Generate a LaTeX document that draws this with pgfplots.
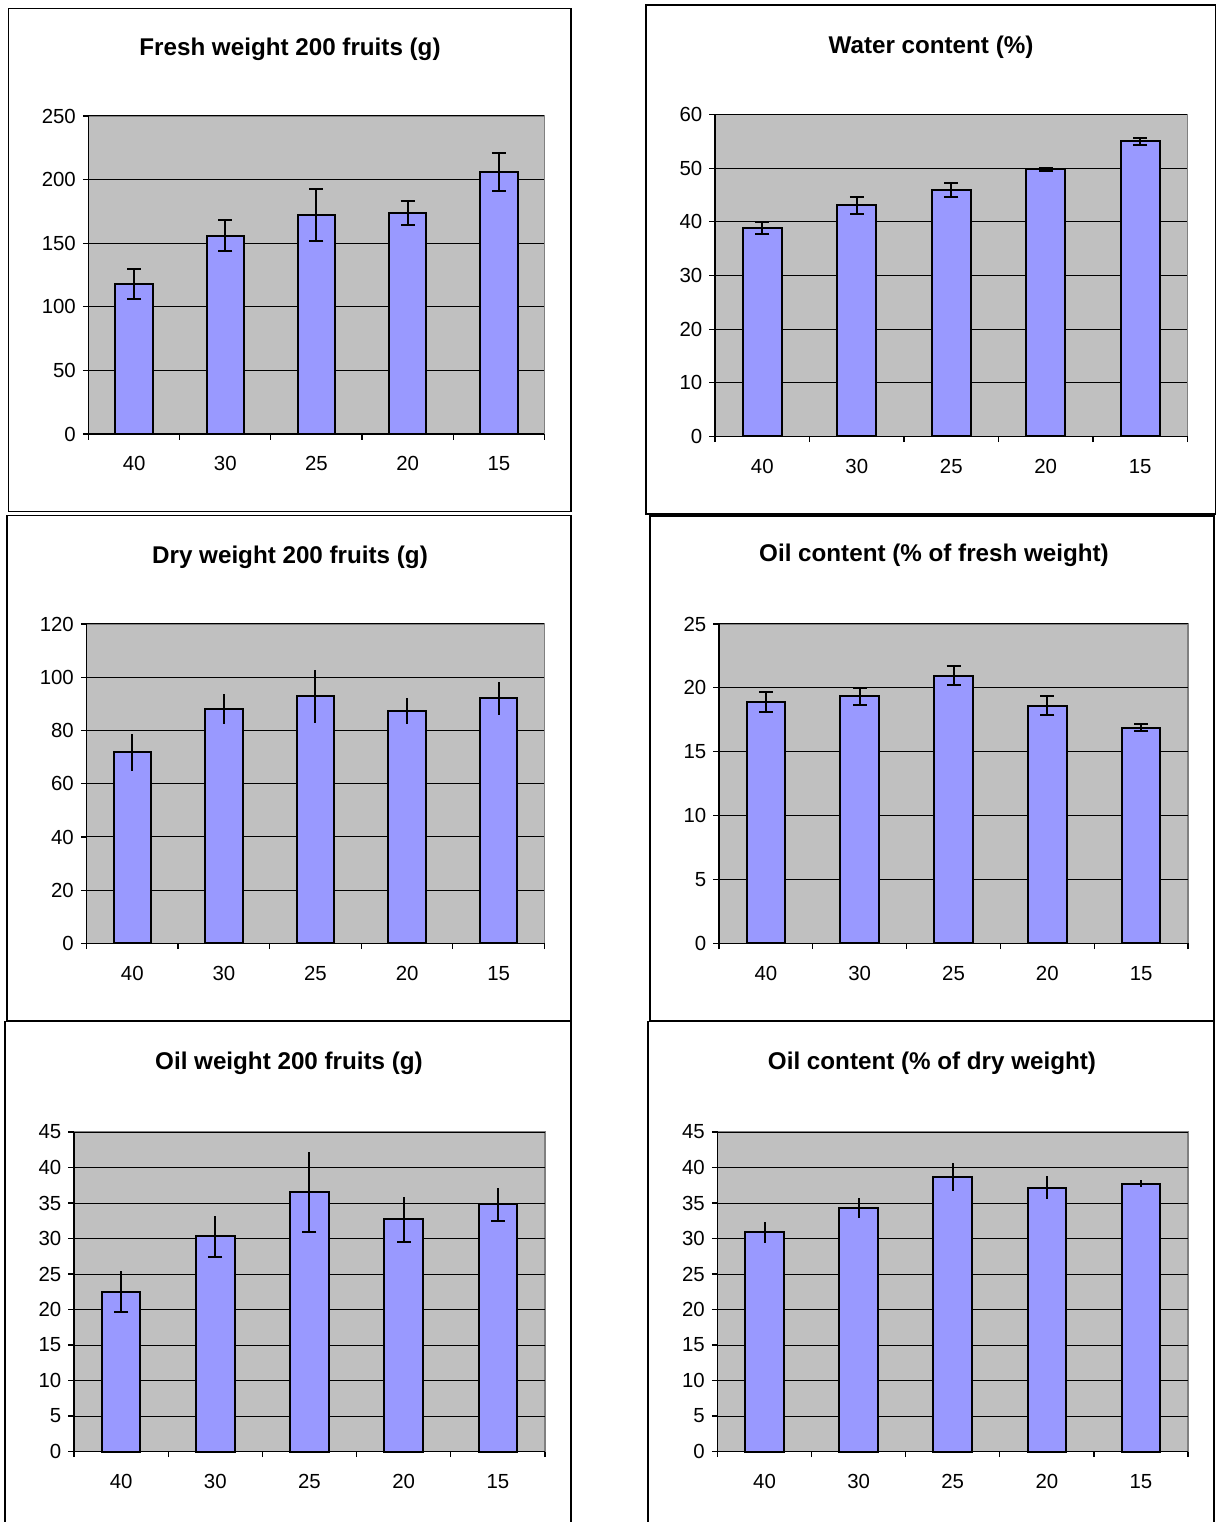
\documentclass[border=0pt]{standalone}
\usepackage{fontspec}
\setmainfont{Liberation Sans}
\usepackage{pgfplots}
\usepackage{pgfplotstable}
\pgfplotsset{compat=1.18}
\definecolor{plotgray}{HTML}{C0C0C0}
\definecolor{barblue}{HTML}{9999FF}

\pgfplotstableread{
x y e
0 118 12
1 156 12.5
2 172 20.5
3 174 9.5
4 206 15
}\dataA
\pgfplotstableread{
x y e
0 38.9 1.1
1 43.1 1.6
2 45.9 1.3
3 49.8 0.3
4 55.0 0.6
}\dataB
\pgfplotstableread{
x y e
0 71.8 7
1 88.0 5.7
2 92.9 10
3 87.3 5
4 92.2 6.2
}\dataC
\pgfplotstableread{
x y e
0 18.9 0.8
1 19.35 0.67
2 20.95 0.73
3 18.6 0.73
4 16.9 0.3
}\dataD
\pgfplotstableread{
x y e
0 22.5 2.9
1 30.3 2.9
2 36.6 5.65
3 32.7 3.2
4 34.8 2.35
}\dataE
\pgfplotstableread{
x y e
0 30.85 1.5
1 34.3 1.35
2 38.7 1.95
3 37.15 1.65
4 37.7 0.5
}\dataF

\pgfplotsset{
  panel/.style={
    scale only axis, anchor=south west,
    axis background/.style={fill=plotgray, draw=gray, line width=0.6pt},
    xmin=-0.5, xmax=4.5, ymin=0,
    xtick={0,...,4}, xticklabels={40,30,25,20,15},
    minor xtick={-0.5,0.5,...,4.5},
    major x tick style={draw=none},
    minor x tick style={black, line width=0.6pt},
    y tick style={black, line width=0.6pt},
    tick align=outside,
    major tick length=2.8pt, minor tick length=2.8pt,
    ymajorgrids, grid style={black, line width=0.5pt},
    axis x line*=bottom, axis y line*=left,
    axis line style={-, black, line width=0.7pt},
    /pgf/number format/assume math mode=true,
    tick label style={font=\fontsize{10.2}{12}\selectfont},
    xticklabel style={yshift=-5pt},
    clip=false,
  },
  bars/.style={ybar, bar width=0.41, bar shift=0pt, fill=barblue, draw=black, line width=1pt},
  ebcap/.style={error bars/.cd, y dir=both, y explicit, error mark=-,
    error mark options={rotate=90, black, line width=1pt, mark size=3.5pt},
    error bar style={draw=black, line width=1pt}},
  ebnocap/.style={error bars/.cd, y dir=both, y explicit, error mark=none,
    error bar style={draw=black, line width=1pt}},
}

\begin{document}
\begin{tikzpicture}
\useasboundingbox (0,0) rectangle (608.5pt,761pt);
% frames
\draw[black, line width=0.9pt] (4.25pt,505.25pt) rectangle (285.5pt,756.75pt);
\draw[black, line width=0.9pt] (323pt,504pt) rectangle (607.75pt,758.5pt);
\draw[black, line width=0.9pt] (3.5pt,250.5pt) rectangle (285.5pt,503.25pt);
\draw[black, line width=0.9pt] (325pt,250.5pt) rectangle (607pt,503pt);
\draw[black, line width=0.9pt] (2.5pt,-5pt) -- (2.5pt,250.25pt) -- (285.5pt,250.25pt) -- (285.5pt,-5pt);
\draw[black, line width=0.9pt] (324pt,-5pt) -- (324pt,250.25pt) -- (607pt,250.25pt) -- (607pt,-5pt);
% titles
\begin{scope}[every node/.style={font=\fontsize{12.1}{14}\selectfont\bfseries, inner sep=0pt}]
\node at (145pt,736.5pt) {Fresh weight 200 fruits (g)};
\node at (465.5pt,737.5pt) {Water content (\%)};
\node at (145pt,482.5pt) {Dry weight 200 fruits (g)};
\node at (467pt,483.5pt) {Oil content (\% of fresh weight)};
\node at (144.5pt,229.5pt) {Oil weight 200 fruits (g)};
\node at (466pt,229.5pt) {Oil content (\% of dry weight)};
\end{scope}

\begin{axis}[panel, at={(44.25pt,544pt)}, width=228pt, height=159pt,
  ymax=250, ytick={0,50,...,250}]
\addplot[bars, ebcap] table[x=x, y=y, y error=e] {\dataA};
\end{axis}

\begin{axis}[panel, at={(357.5pt,542.75pt)}, width=236.25pt, height=161pt,
  ymax=60, ytick={0,10,...,60}]
\addplot[bars, ebcap] table[x=x, y=y, y error=e] {\dataB};
\end{axis}

\begin{axis}[panel, at={(43.25pt,289.25pt)}, width=229pt, height=159.75pt,
  ymax=120, ytick={0,20,...,120}]
\addplot[bars, ebnocap] table[x=x, y=y, y error=e] {\dataC};
\end{axis}

\begin{axis}[panel, at={(359.5pt,289.25pt)}, width=234.5pt, height=159.75pt,
  ymax=25, ytick={0,5,...,25}]
\addplot[bars, ebcap] table[x=x, y=y, y error=e] {\dataD};
\end{axis}

\begin{axis}[panel, at={(37pt,35.25pt)}, width=235.5pt, height=159.75pt,
  ymax=45, ytick={0,5,...,45}]
\addplot[bars, error bars/.cd, y dir=minus, y explicit, error mark=-,
    error mark options={rotate=90, black, line width=1pt, mark size=3.5pt},
    error bar style={draw=black, line width=1pt}] table[x=x, y=y, y error=e] {\dataE};
\addplot[draw=none, mark=none, forget plot, error bars/.cd, y dir=plus, y explicit, error mark=none,
    error bar style={draw=black, line width=1pt}] table[x=x, y=y, y error=e] {\dataE};
\end{axis}

\begin{axis}[panel, at={(358.75pt,35.25pt)}, width=235.25pt, height=159.75pt,
  ymax=45, ytick={0,5,...,45}]
\addplot[bars, ebnocap] table[x=x, y=y, y error=e] {\dataF};
\end{axis}
\end{tikzpicture}
\end{document}
